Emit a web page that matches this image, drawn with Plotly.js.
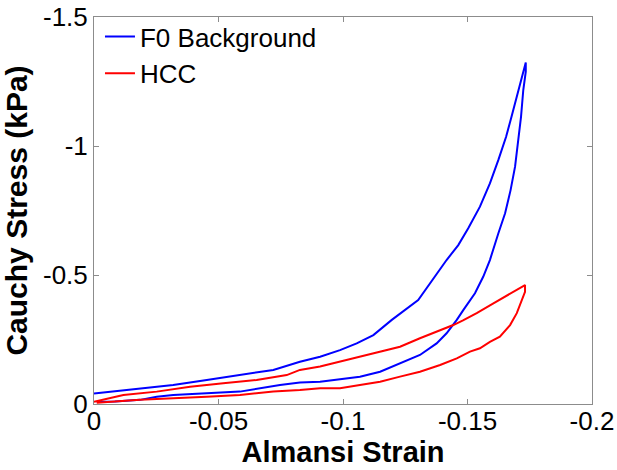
<!DOCTYPE html>
<html>
<head>
<meta charset="utf-8">
<script src="https://cdn.plot.ly/plotly-3.0.1.min.js"></script>
<style>html,body{margin:0;padding:0;background:#fff;}#chart{width:617px;height:470px;}</style>
</head>
<body>
<div id="chart"></div>
<script>
// F0 Background loop: loading branch then unloading branch
const f0Strain = [0, -0.0064, -0.0185, -0.0318, -0.0453, -0.0586, -0.0720, -0.0827, -0.0908, -0.0988, -0.1055, -0.1122, -0.1196, -0.1302, -0.1369, -0.1416, -0.1463, -0.1503, -0.1550, -0.1590, -0.1624, -0.1655, -0.1677, -0.1698, -0.1718, -0.1734,
  -0.1734, -0.1724, -0.1715, -0.1704, -0.1691, -0.1673, -0.1651, -0.1624, -0.1590, -0.1563, -0.1530, -0.1483, -0.1457, -0.1416, -0.1376, -0.1309, -0.1229, -0.1149, -0.1068, -0.0988, -0.0908, -0.0827, -0.0747, -0.0586, -0.0453, -0.0318, -0.0252, -0.0185, -0.0084, -0.0011];
const f0Stress = [-0.041, -0.048, -0.061, -0.074, -0.093, -0.112, -0.132, -0.164, -0.183, -0.209, -0.235, -0.267, -0.326, -0.403, -0.493, -0.558, -0.616, -0.681, -0.765, -0.855, -0.946, -1.036, -1.114, -1.191, -1.269, -1.324,
  -1.288, -1.217, -1.114, -1.023, -0.920, -0.829, -0.739, -0.662, -0.558, -0.493, -0.429, -0.364, -0.326, -0.274, -0.235, -0.190, -0.158, -0.125, -0.106, -0.096, -0.086, -0.083, -0.074, -0.048, -0.041, -0.035, -0.028, -0.016, -0.010, -0.009];

// HCC loop
const hccStrain = [0, -0.0118, -0.0252, -0.0386, -0.0519, -0.0653, -0.0774, -0.0827, -0.0908, -0.0988, -0.1068, -0.1149, -0.1229, -0.1309, -0.1376, -0.1443, -0.1482, -0.1537, -0.1604, -0.1671, -0.1731,
  -0.1731, -0.1718, -0.1698, -0.1671, -0.1630, -0.1590, -0.1550, -0.1510, -0.1457, -0.1390, -0.1309, -0.1229, -0.1149, -0.1068, -0.0988, -0.0908, -0.0827, -0.0720, -0.0586, -0.0453, -0.0318, -0.0185, -0.0011];
const hccStress = [-0.009, -0.035, -0.048, -0.067, -0.080, -0.093, -0.112, -0.132, -0.145, -0.164, -0.183, -0.203, -0.222, -0.255, -0.280, -0.306, -0.324, -0.352, -0.390, -0.429, -0.461,
  -0.435, -0.403, -0.352, -0.306, -0.261, -0.241, -0.216, -0.203, -0.177, -0.151, -0.125, -0.106, -0.086, -0.074, -0.061, -0.061, -0.054, -0.048, -0.035, -0.028, -0.022, -0.016, -0.005];

const xTickVals = [0, -0.05, -0.1, -0.15, -0.2];
const xTickText = ["0", "-0.05", "-0.1", "-0.15", "-0.2"];
const yTickVals = [0, -0.5, -1, -1.5];
const yTickText = ["0", "-0.5", "-1", "-1.5"];

const FONT = "Liberation Sans, Arial, sans-serif";

const traces = [
  {x: f0Strain, y: f0Stress, type: "scatter", mode: "lines", name: "F0 Background",
   line: {color: "#0000ff", width: 2}},
  {x: hccStrain, y: hccStress, type: "scatter", mode: "lines", name: "HCC",
   line: {color: "#ff0000", width: 2}}
];

const axisCommon = {
  showgrid: false, zeroline: false, showline: true, linecolor: "#8c8c8c", linewidth: 1,
  mirror: "ticks", ticks: "inside", ticklen: 5, tickcolor: "#8c8c8c", tickwidth: 1,
  tickfont: {family: FONT, size: 26, color: "#000"}, automargin: false
};

const layout = {
  width: 617, height: 470,
  margin: {l: 94, r: 25, t: 17, b: 66},
  paper_bgcolor: "#fff", plot_bgcolor: "#fff",
  showlegend: true,
  legend: {x: 0.012, y: 1.01, xanchor: "left", yanchor: "top", bgcolor: "rgba(255,255,255,0)",
           borderwidth: 0, font: {family: FONT, size: 26, color: "#000"}},
  xaxis: Object.assign({}, axisCommon, {
    range: [0, -0.2], tickmode: "array", tickvals: xTickVals, ticktext: xTickText,
    ticklabelstandoff: -6,
    title: {text: "<b>Almansi Strain</b>", font: {family: FONT, size: 29, color: "#000"}, standoff: 3}
  }),
  yaxis: Object.assign({}, axisCommon, {
    range: [0, -1.5], tickmode: "array", tickvals: yTickVals, ticktext: yTickText,
    title: {text: "<b>Cauchy Stress (kPa)</b>", font: {family: FONT, size: 30, color: "#000"}, standoff: 8}
  })
};

Plotly.newPlot("chart", traces, layout, {staticPlot: true, displayModeBar: false});
</script>
</body>
</html>
